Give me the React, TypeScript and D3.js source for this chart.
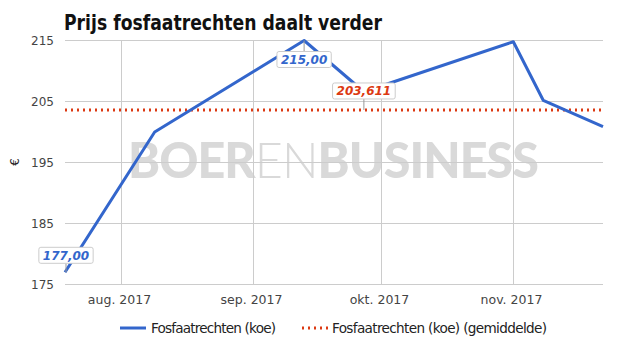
import React from "react";
import * as d3 from "d3";

const W = 625;
const H = 355;

const dates = ["2017-07-19", "2017-08-09", "2017-09-13", "2017-09-27", "2017-11-01", "2017-11-08", "2017-11-22"];
const prices = [177, 200, 215, 206.6, 214.8, 205.2, 200.9];
const average = 203.611;
const yTicks = [175, 185, 195, 205, 215];
const xTickDates = ["2017-08-01", "2017-09-01", "2017-10-01", "2017-11-01"];
const xTickLabels = ["aug. 2017", "sep. 2017", "okt. 2017", "nov. 2017"];
const seriesNames = ["Fosfaatrechten (koe)", "Fosfaatrechten (koe) (gemiddelde)"];

const FONT = "'DejaVu Sans', sans-serif";
const BLUE = "#3366cc";
const RED = "#dc3912";

const parse = d3.timeParse("%Y-%m-%d");

function measure(text: string, font: string): number {
  const c = document.createElement("canvas").getContext("2d");
  if (!c) return text.length * 7;
  c.font = font;
  return c.measureText(text).width;
}

function Callout({ x, y, text, color, above, gap }: { x: number; y: number; text: string; color: string; above: boolean; gap: number }) {
  const font = `italic bold 12px ${FONT}`;
  const tw = measure(text, font);
  const bw = tw + 8;
  const bh = 16;
  const by = above ? y - gap - bh : y + gap;
  const bx = x - bw / 2;
  return (
    <g>
      <line x1={x} x2={x} y1={y} y2={above ? by + bh : by} stroke="#999" strokeWidth={1} />
      <rect x={bx} y={by} width={bw} height={bh} rx={2} fill="#fff" stroke="#ccc" strokeWidth={1} />
      <text x={x} y={by + 12.5} textAnchor="middle" fill={color} style={{ font }}>{text}</text>
    </g>
  );
}

export default function App() {
  const left = 65, right = 603, top = 40.5, bottom = 284.5;
  const data = dates.map((d, i) => ({ date: parse(d)!, value: prices[i] }));
  const x = d3.scaleTime().domain([data[0].date, data[data.length - 1].date]).range([left, right]);
  const y = d3.scaleLinear().domain([175, 215]).range([bottom, top]);
  const line = d3.line<{ date: Date; value: number }>().x((d) => x(d.date)).y((d) => y(d.value));
  const fmt = (v: number, digits: number) => v.toFixed(digits).replace(".", ",");
  const peak = data[2];
  const avgX = x(data[3].date);

  return (
    <svg width={W} height={H} style={{ position: "absolute", left: 0, top: 0, background: "#fff" }}>
      <text x={64} y={30} style={{ font: `bold 21px ${FONT}` }} fill="#111" textLength={318} lengthAdjust="spacingAndGlyphs">Prijs fosfaatrechten daalt verder</text>

      {/* watermark */}
      <text x={128} y={178} fill="#d9d9d9" fontSize={50} textLength={410} lengthAdjust="spacingAndGlyphs"
        style={{ fontFamily: "Lato, 'Liberation Sans', sans-serif", letterSpacing: "-1px" }}>
        <tspan fontWeight={900}>BOER</tspan>
        <tspan fontWeight={300}>EN</tspan>
        <tspan fontWeight={900}>BUSINESS</tspan>
      </text>

      {yTicks.map((t) => (
        <g key={t}>
          <line x1={left} x2={right} y1={y(t)} y2={y(t)} stroke="#cccccc" strokeWidth={1} />
          <text x={54} y={y(t) + 4} textAnchor="end" fill="#444" style={{ font: `12px ${FONT}` }}>{t}</text>
        </g>
      ))}
      {xTickDates.map((d, i) => {
        const px = Math.round(x(parse(d)!)) + 0.5;
        return (
          <g key={d}>
            <line x1={px} x2={px} y1={top} y2={bottom} stroke="#cccccc" strokeWidth={1} />
            <text x={px - 2} y={304} textAnchor="middle" fill="#444" style={{ font: `12.5px ${FONT}` }}>{xTickLabels[i]}</text>
          </g>
        );
      })}
      <text transform={`translate(19,162) rotate(-90)`} textAnchor="middle" fill="#222" style={{ font: `12px ${FONT}` }}>€</text>

      <line x1={left} x2={right} y1={y(average)} y2={y(average)} stroke={RED} strokeWidth={3} strokeDasharray="2,4" />
      <path d={line(data) || ""} fill="none" stroke={BLUE} strokeWidth={3} strokeLinejoin="round" />

      <Callout x={x(data[0].date) + 1} y={y(data[0].value)} text={fmt(data[0].value, 2)} color={BLUE} above gap={9} />
      <Callout x={x(peak.date)} y={y(peak.value)} text={fmt(peak.value, 2)} color={BLUE} above={false} gap={11} />
      <Callout x={avgX} y={y(average)} text={fmt(average, 3)} color={RED} above gap={11} />

      {/* legend */}
      <line x1={120} x2={146} y1={328} y2={328} stroke={BLUE} strokeWidth={3} />
      <text x={151} y={332.5} fill="#222" style={{ font: `13.6px ${FONT}` }} textLength={125}>{seriesNames[0]}</text>
      <line x1={302} x2={328} y1={328} y2={328} stroke={RED} strokeWidth={3} strokeDasharray="2,4" />
      <text x={332} y={332.5} fill="#222" style={{ font: `13.6px ${FONT}` }} textLength={215}>{seriesNames[1]}</text>
    </svg>
  );
}
